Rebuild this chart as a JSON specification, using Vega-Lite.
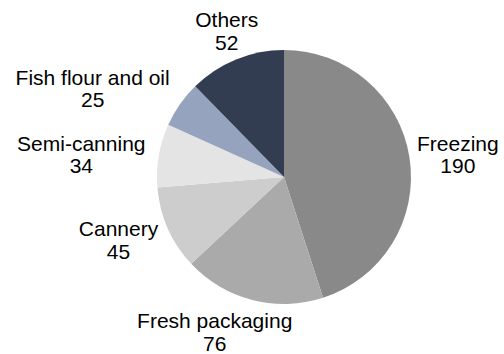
{
  "$schema": "https://vega.github.io/schema/vega-lite/v6.json",
  "width": 440,
  "height": 354,
  "autosize": {"type": "none"},
  "padding": {"left": 64, "top": 0, "right": 0, "bottom": 0},
  "background": "white",
  "config": {"view": {"stroke": null}},
  "data": {
    "values": [
      {"category": "Freezing", "value": 190},
      {"category": "Fresh packaging", "value": 76},
      {"category": "Cannery", "value": 45},
      {"category": "Semi-canning", "value": 34},
      {"category": "Fish flour and oil", "value": 25},
      {"category": "Others", "value": 52}
    ]
  },
  "transform": [
    {"window": [{"op": "row_number", "as": "rn"}]},
    {"calculate": "[datum.category, format(datum.value, 'd')]", "as": "lines"}
  ],
  "encoding": {
    "theta": {"field": "value", "type": "quantitative", "stack": true},
    "order": {"field": "rn", "type": "quantitative"}
  },
  "layer": [
    {
      "mark": {"type": "arc", "outerRadius": 127},
      "encoding": {
        "color": {
          "field": "category",
          "type": "nominal",
          "legend": null,
          "scale": {
            "domain": ["Freezing", "Fresh packaging", "Cannery", "Semi-canning", "Fish flour and oil", "Others"],
            "range": ["#898989", "#aaaaaa", "#cdcdcd", "#e4e4e4", "#96a3be", "#333d52"]
          }
        }
      }
    },
    {
      "mark": {
        "type": "text",
        "radius": 137,
        "font": "Liberation Sans",
        "fontSize": 21,
        "lineHeight": 22.3,
        "color": "#000000",
        "align": "center",
        "baseline": "alphabetic",
        "dx": {"expr": "({'Freezing': 38.5, 'Fresh packaging': -35, 'Cannery': -40.2, 'Semi-canning': -67.7, 'Fish flour and oil': -79.1, 'Others': -5.5})[datum.category]"},
        "dy": {"expr": "({'Freezing': -4.7, 'Fresh packaging': 18.6, 'Cannery': 4, 'Semi-canning': -2.9, 'Fish flour and oil': -13.6, 'Others': -22.9})[datum.category]"}
      },
      "encoding": {
        "text": {"field": "lines"}
      }
    }
  ]
}
